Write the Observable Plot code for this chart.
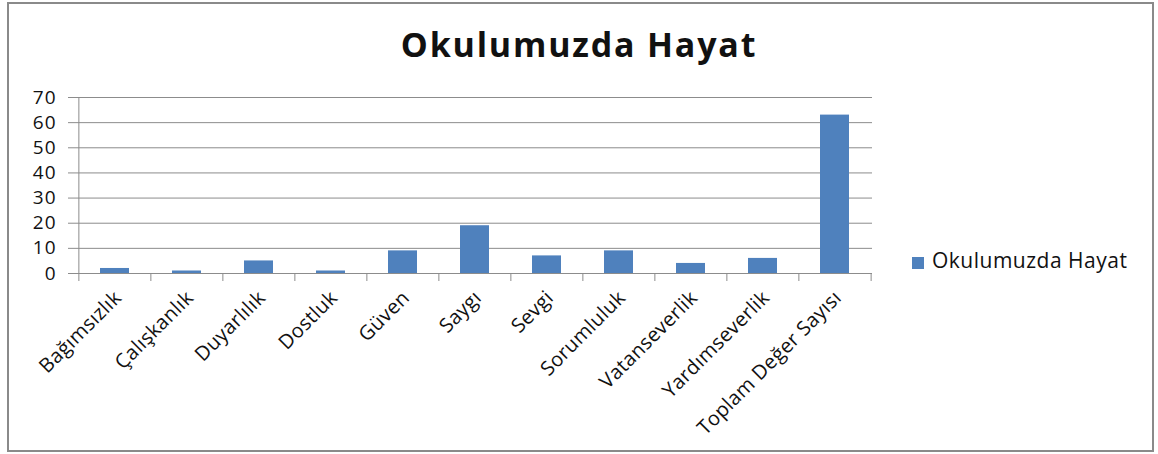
<!DOCTYPE html>
<html><head><meta charset="utf-8">
<script src="https://cdn.jsdelivr.net/npm/d3@7"></script>
<script src="https://cdn.jsdelivr.net/npm/@observablehq/plot@0.6"></script>
<style>
body{margin:0;background:#fff;}
#wrap{position:relative;width:1158px;height:454px;overflow:hidden;font-family:"Open Sans",sans-serif;color:#111;}
#frame{position:absolute;left:7px;top:2px;width:1147px;height:450px;border:2px solid #8a8a8a;box-sizing:border-box;}
#title{position:absolute;left:0;top:27px;width:1158px;text-align:center;font-weight:bold;font-size:34px;line-height:34px;letter-spacing:1.8px;}
#chart{position:absolute;left:0;top:0;}
#legend{position:absolute;left:912px;top:250px;display:flex;align-items:center;font-size:21px;line-height:21px;letter-spacing:0.5px;}
#legend .sw{width:12px;height:12px;background:#4F81BD;margin-right:8px;margin-top:4px;}
</style>
</head><body>
<div id="wrap">
  <div id="frame"></div>
  <div id="chart"></div>
  <div id="title"></div>
  <div id="legend"><span class="sw"></span><span id="legtext"></span></div>
</div>
<script>
const chartTitle = "Okulumuzda Hayat";
const seriesName = "Okulumuzda Hayat";
const categories = ["Bağımsızlık","Çalışkanlık","Duyarlılık","Dostluk","Güven","Saygı","Sevgi","Sorumluluk","Vatanseverlik","Yardımseverlik","Toplam Değer Sayısı"];
const values = [2,1,5,1,9,19,7,9,4,6,63];
const yTicks = [0,10,20,30,40,50,60,70];

const data = categories.map((c,i)=>({category:c, value:values[i]}));
const W=1158,H=454,ML=77,MR=286,MT=97,MB=181;
const step=(W-ML-MR)/categories.length;
const gridColor="#8c8c8c";
const barColor="#4F81BD";

document.getElementById("title").textContent = chartTitle;
document.getElementById("legtext").textContent = seriesName;

const chart = Plot.plot({
  width:W, height:H, marginLeft:ML, marginRight:MR, marginTop:MT, marginBottom:MB,
  style:{fontFamily:'"Open Sans", sans-serif', fontSize:"18px", color:"#111", background:"transparent", overflow:"visible"},
  x:{domain:categories, paddingInner:0.6, paddingOuter:0.3, label:null},
  y:{domain:[0,70], label:null},
  marks:[
    Plot.ruleY(yTicks,{stroke:gridColor, strokeWidth:1}),
    Plot.ruleX([categories[0]],{dx:-step/2, y1:0, y2:70, stroke:gridColor}),
    Plot.barY(data,{x:"category", y:"value", fill:barColor}),
    Plot.ruleY([0],{stroke:gridColor}),
    Plot.axisY(yTicks,{tickSize:9, tickPadding:12, stroke:gridColor, fill:"#111", fontSize:19, label:null}),
    Plot.axisX({tickSize:8, tickFormat:()=>"", stroke:gridColor, dx:-step/2, label:null}),
    Plot.axisX([categories[categories.length-1]],{tickSize:8, tickFormat:()=>"", stroke:gridColor, dx:step/2, label:null}),
    Plot.axisX({tickSize:0, tickRotate:-45, tickPadding:21, dx:3, fill:"#111", fontSize:20, label:null})
  ]
});
chart.querySelectorAll("g[aria-label='y-axis tick label'] text").forEach(t=>t.setAttribute("letter-spacing","1"));
chart.querySelectorAll("g[aria-label='x-axis tick label'] text").forEach(t=>t.setAttribute("letter-spacing","0.3"));
document.getElementById("chart").appendChild(chart);
</script>
</body></html>
